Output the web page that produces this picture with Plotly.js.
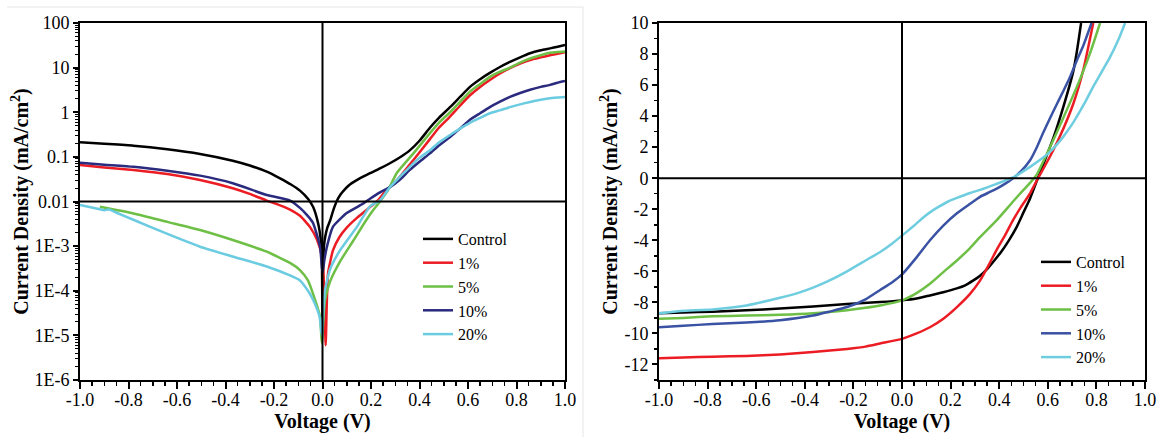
<!DOCTYPE html>
<html>
<head>
<meta charset="utf-8">
<script src="https://cdn.plot.ly/plotly-3.0.1.min.js"></script>
<style>html,body{margin:0;padding:0;background:#fff;}#plot{width:1159px;height:437px;}</style>
</head>
<body>
<div id="plot"></div>
<script>
// ---------- Left panel: dark J-V, |J| on log scale ----------
const seriesNames = ['Control', '1%', '5%', '10%', '20%'];

const darkCtrlV = [-1, -0.9, -0.78, -0.64, -0.505, -0.37, -0.3, -0.23, -0.175, -0.13, -0.093, -0.06, -0.039, -0.023, -0.012, -0.005, -0.002, 0, 0.002, 0.006, 0.012, 0.02, 0.031, 0.045, 0.06, 0.075, 0.093, 0.113, 0.15, 0.196, 0.237, 0.278, 0.32, 0.36, 0.4, 0.443, 0.48, 0.526, 0.567, 0.608, 0.65, 0.69, 0.73, 0.773, 0.815, 0.856, 0.9, 0.938, 0.97, 1.0];
const darkCtrlJ = [0.212, 0.196, 0.178, 0.148, 0.116, 0.082, 0.064, 0.0466, 0.033, 0.024, 0.0175, 0.0115, 0.0076, 0.0042, 0.0022, 0.001, 0.0003, 0.00002, 0.0003, 0.001, 0.0017, 0.0026, 0.0037, 0.0065, 0.0105, 0.0145, 0.019, 0.024, 0.032, 0.043, 0.055, 0.072, 0.098, 0.14, 0.23, 0.45, 0.75, 1.3, 2.2, 3.7, 5.5, 7.6, 10.2, 13.4, 17, 21, 24.5, 27, 29.5, 32];

const dark1V = [-1, -0.9, -0.78, -0.64, -0.505, -0.37, -0.3, -0.23, -0.175, -0.134, -0.093, -0.052, -0.023, -0.002, 0.006, 0.013, 0.018, 0.023, 0.043, 0.07, 0.1, 0.142, 0.196, 0.224, 0.26, 0.307, 0.375, 0.443, 0.48, 0.526, 0.567, 0.608, 0.65, 0.69, 0.73, 0.773, 0.815, 0.856, 0.9, 0.938, 0.97, 1.0];
const dark1J = [0.066, 0.058, 0.0508, 0.0413, 0.0303, 0.0198, 0.0148, 0.0105, 0.0082, 0.0066, 0.0048, 0.0027, 0.0014, 0.00057, 0.00015, 0.000006, 0.00006, 0.00025, 0.0008, 0.0016, 0.0026, 0.0043, 0.0075, 0.01, 0.017, 0.03, 0.085, 0.25, 0.45, 0.8, 1.4, 2.4, 3.7, 5.3, 7.3, 9.7, 12.3, 14.8, 17, 19, 20.5, 22];

const dark5V = [-0.918, -0.78, -0.64, -0.505, -0.37, -0.23, -0.134, -0.093, -0.06, -0.039, -0.01, -0.003, 0.01, 0.031, 0.072, 0.126, 0.18, 0.21, 0.237, 0.27, 0.307, 0.375, 0.443, 0.48, 0.526, 0.567, 0.608, 0.65, 0.69, 0.73, 0.773, 0.815, 0.856, 0.9, 0.938, 0.97, 1.0];
const dark5J = [0.0076, 0.0054, 0.0035, 0.0023, 0.00137, 0.00075, 0.00042, 0.00029, 0.00017, 0.000085, 0.000026, 0.0000068, 0.00006, 0.00016, 0.00045, 0.0013, 0.0038, 0.0065, 0.01, 0.018, 0.044, 0.12, 0.34, 0.58, 1.0, 1.7, 2.9, 4.3, 6.2, 8.0, 10, 13, 16, 19, 21.5, 22.5, 23];

const dark10V = [-1, -0.9, -0.78, -0.64, -0.505, -0.37, -0.23, -0.134, -0.093, -0.06, -0.039, -0.01, 0, 0.008, 0.018, 0.043, 0.1, 0.168, 0.196, 0.237, 0.278, 0.32, 0.36, 0.4, 0.443, 0.48, 0.526, 0.567, 0.608, 0.65, 0.69, 0.73, 0.773, 0.815, 0.856, 0.9, 0.938, 0.97, 1.0];
const dark10J = [0.074, 0.067, 0.06, 0.049, 0.038, 0.0257, 0.014, 0.0105, 0.0072, 0.0047, 0.0033, 0.00096, 0.00025, 0.0005, 0.00096, 0.0027, 0.0055, 0.009, 0.0115, 0.016, 0.021, 0.031, 0.051, 0.078, 0.12, 0.18, 0.28, 0.43, 0.68, 0.95, 1.3, 1.7, 2.2, 2.7, 3.2, 3.7, 4.1, 4.6, 5.0];

const dark20V = [-1, -0.918, -0.9, -0.88, -0.849, -0.78, -0.642, -0.505, -0.368, -0.23, -0.134, -0.093, -0.06, -0.039, -0.012, -0.003, 0.01, 0.031, 0.072, 0.142, 0.196, 0.237, 0.278, 0.32, 0.36, 0.4, 0.443, 0.48, 0.526, 0.567, 0.608, 0.65, 0.69, 0.73, 0.773, 0.815, 0.856, 0.9, 0.938, 0.97, 1.0];
const dark20J = [0.0084, 0.0067, 0.0064, 0.0066, 0.0056, 0.0039, 0.0019, 0.00097, 0.00058, 0.00035, 0.00022, 0.00017, 0.0001, 0.000063, 0.000026, 0.00001, 0.0001, 0.0003, 0.0008, 0.0027, 0.0078, 0.0105, 0.021, 0.036, 0.06, 0.095, 0.14, 0.21, 0.31, 0.43, 0.58, 0.75, 0.95, 1.1, 1.3, 1.5, 1.7, 1.9, 2.05, 2.15, 2.2];

// ---------- Right panel: illuminated J-V, linear ----------
const lightCtrlV = [-1, -0.9, -0.78, -0.64, -0.502, -0.366, -0.226, -0.09, 0, 0.06, 0.115, 0.17, 0.226, 0.26, 0.292, 0.32, 0.35, 0.38, 0.41, 0.44, 0.47, 0.5, 0.527, 0.56, 0.589, 0.623, 0.664, 0.705, 0.72, 0.737];
const lightCtrlJ = [-8.7, -8.65, -8.6, -8.5, -8.4, -8.26, -8.1, -7.98, -7.87, -7.75, -7.55, -7.35, -7.1, -6.9, -6.6, -6.3, -5.85, -5.3, -4.7, -4.0, -3.2, -2.2, -1.3, 0.05, 1.2, 2.6, 4.6, 6.9, 8.2, 10];

const light1V = [-1, -0.9, -0.78, -0.64, -0.502, -0.366, -0.226, -0.15, -0.09, 0, 0.06, 0.115, 0.17, 0.226, 0.28, 0.321, 0.36, 0.39, 0.425, 0.457, 0.49, 0.527, 0.56, 0.609, 0.65, 0.705, 0.746, 0.787];
const light1J = [-11.6, -11.55, -11.5, -11.45, -11.35, -11.2, -11.0, -10.85, -10.65, -10.35, -10.0, -9.6, -9.05, -8.3, -7.45, -6.6, -5.5, -4.6, -3.65, -2.7, -1.85, -0.97, 0, 1.4, 2.7, 4.8, 6.97, 10];

const light5V = [-1, -0.9, -0.78, -0.64, -0.502, -0.366, -0.226, -0.15, -0.09, 0, 0.06, 0.115, 0.17, 0.226, 0.28, 0.321, 0.39, 0.457, 0.5, 0.527, 0.555, 0.609, 0.664, 0.72, 0.774, 0.815];
const light5J = [-9.05, -9.0, -8.9, -8.85, -8.8, -8.7, -8.5, -8.35, -8.2, -7.87, -7.4, -6.8, -6.05, -5.3, -4.5, -3.8, -2.7, -1.5, -0.75, -0.3, 0.25, 2.0, 3.9, 5.9, 8.06, 10];

const light10V = [-1, -0.9, -0.78, -0.64, -0.502, -0.366, -0.3, -0.226, -0.15, -0.09, -0.04, 0, 0.06, 0.115, 0.17, 0.226, 0.28, 0.321, 0.36, 0.39, 0.425, 0.457, 0.49, 0.527, 0.555, 0.58, 0.61, 0.638, 0.665, 0.691, 0.72, 0.745, 0.78];
const light10J = [-9.6, -9.5, -9.4, -9.3, -9.15, -8.85, -8.6, -8.3, -7.8, -7.2, -6.7, -6.2, -5.1, -4.0, -3.05, -2.26, -1.65, -1.2, -0.9, -0.67, -0.35, 0, 0.45, 1.16, 2.0, 2.9, 3.9, 4.8, 5.65, 6.5, 7.6, 8.5, 10];

const light20V = [-1, -0.91, -0.78, -0.64, -0.502, -0.43, -0.366, -0.3, -0.226, -0.15, -0.09, -0.04, 0, 0.05, 0.09, 0.115, 0.15, 0.19, 0.226, 0.28, 0.321, 0.39, 0.457, 0.527, 0.57, 0.609, 0.66, 0.705, 0.75, 0.787, 0.82, 0.856, 0.89, 0.918];
const light20J = [-8.7, -8.55, -8.45, -8.2, -7.7, -7.4, -7.05, -6.6, -6.0, -5.3, -4.75, -4.2, -3.7, -3.05, -2.5, -2.2, -1.85, -1.5, -1.27, -0.95, -0.75, -0.36, 0.05, 0.73, 1.2, 1.7, 2.6, 3.6, 4.8, 5.9, 6.8, 7.8, 8.9, 10];

// ---------- Tick labels ----------
const xTickVals = [-1, -0.8, -0.6, -0.4, -0.2, 0, 0.2, 0.4, 0.6, 0.8, 1];
const xTickText = ['-1.0', '-0.8', '-0.6', '-0.4', '-0.2', '0.0', '0.2', '0.4', '0.6', '0.8', '1.0'];
const yLogTickVals = [1e-6, 1e-5, 1e-4, 1e-3, 0.01, 0.1, 1, 10, 100];
const yLogTickText = ['1E-6', '1E-5', '1E-4', '1E-3', '0.01', '0.1', '1', '10', '100'];
const yLinTickVals = [-12, -10, -8, -6, -4, -2, 0, 2, 4, 6, 8, 10];
const yLinTickText = ['-12', '-10', '-8', '-6', '-4', '-2', '0', '2', '4', '6', '8', '10'];

// ---------- Styling ----------
const darkColors = ['#000000', '#ec1c24', '#6dbf45', '#2a2a7e', '#6bcbe0'];
const lightColors = ['#000000', '#ec1c24', '#6dbf45', '#3a52a3', '#6fcde0'];
const FONT = 'Liberation Serif';

const W = 1159, H = 437;
const DL = [80 / W, 565 / W];
const DR = [659 / W, 1145 / W];
const DY = [57 / H, 414 / H];

const darkSets = [[darkCtrlV, darkCtrlJ], [dark1V, dark1J], [dark5V, dark5J], [dark10V, dark10J], [dark20V, dark20J]];
const lightSets = [[lightCtrlV, lightCtrlJ], [light1V, light1J], [light5V, light5J], [light10V, light10J], [light20V, light20J]];

const traces = [];
darkSets.forEach((s, i) => traces.push({
  x: s[0], y: s[1], type: 'scatter', mode: 'lines', name: seriesNames[i],
  xaxis: 'x', yaxis: 'y', legend: 'legend',
  line: {color: darkColors[i], width: 2.5, shape: 'spline', smoothing: 0.5}
}));
lightSets.forEach((s, i) => traces.push({
  x: s[0], y: s[1], type: 'scatter', mode: 'lines', name: seriesNames[i],
  xaxis: 'x2', yaxis: 'y2', legend: 'legend2',
  line: {color: lightColors[i], width: 2.5, shape: 'spline', smoothing: 0.5}
}));

const minorLog = [];
for (let e = -6; e < 2; e++) for (let k = 2; k <= 9; k++) minorLog.push(k * Math.pow(10, e));

const tickFont = {family: FONT, size: 18, color: '#000'};
const titleFont = {family: FONT, size: 20, color: '#000'};

function xMain(domain, anchor) {
  return {
    domain: domain, anchor: anchor, range: [-1, 1], showgrid: false, zeroline: false,
    showline: true, linecolor: '#000', linewidth: 2, mirror: true,
    ticks: 'outside', ticklen: 7, tickwidth: 2, tickcolor: '#000',
    tickmode: 'array', tickvals: xTickVals, ticktext: xTickText, tickfont: tickFont,
    ticklabelstandoff: -5,
    minor: {ticks: 'outside', ticklen: 4, tickwidth: 1.5, tickcolor: '#000', dtick: 0.05, tick0: -1},
    title: {text: '<b>Voltage (V)</b>', font: titleFont, standoff: 1},
    fixedrange: true
  };
}
function xOver(over, anchor) {
  return {
    overlaying: over, anchor: anchor, side: 'bottom', range: [-1, 1], showgrid: false, zeroline: false,
    showline: false, ticks: 'inside', ticklen: 7, tickwidth: 2, tickcolor: '#000',
    tickmode: 'array', tickvals: xTickVals, showticklabels: false, fixedrange: true
  };
}

const layout = {
  width: W, height: H, autosize: false,
  margin: {l: 0, r: 0, t: 0, b: 0},
  paper_bgcolor: '#fff', plot_bgcolor: '#fff',
  font: {family: FONT, color: '#000'},
  showlegend: true,
  xaxis: xMain(DL, 'y'),
  xaxis2: xMain(DR, 'y2'),
  xaxis3: xOver('x', 'y'),
  xaxis4: xOver('x2', 'y2'),
  yaxis: {
    domain: DY, anchor: 'x', type: 'log', range: [-6, 2], showgrid: false, zeroline: false,
    showline: true, linecolor: '#000', linewidth: 2, mirror: true,
    ticks: 'outside', ticklen: 5, tickwidth: 2, tickcolor: '#000',
    tickmode: 'array', tickvals: yLogTickVals, ticktext: yLogTickText, tickfont: tickFont,
    minor: {ticks: 'outside', ticklen: 3, tickwidth: 1, tickcolor: '#000', tickmode: 'array', tickvals: minorLog},
    title: {text: '<b>Current Density (mA/cm<sup>2</sup>)</b>', font: titleFont, standoff: 0},
    fixedrange: true
  },
  yaxis3: {
    overlaying: 'y', anchor: 'x', side: 'left', type: 'log', range: [-6, 2], showgrid: false, zeroline: false,
    showline: false, ticks: 'inside', ticklen: 8, tickwidth: 2, tickcolor: '#000',
    tickmode: 'array', tickvals: yLogTickVals, showticklabels: false, fixedrange: true
  },
  yaxis2: {
    domain: DY, anchor: 'x2', range: [-13, 10], showgrid: false, zeroline: false,
    showline: true, linecolor: '#000', linewidth: 2, mirror: true,
    ticks: 'outside', ticklen: 5, tickwidth: 2, tickcolor: '#000',
    tickmode: 'array', tickvals: yLinTickVals, ticktext: yLinTickText, tickfont: tickFont,
    minor: {ticks: 'outside', ticklen: 3, tickwidth: 1.5, tickcolor: '#000', dtick: 1, tick0: -13},
    title: {text: '<b>Current Density (mA/cm<sup>2</sup>)</b>', font: titleFont, standoff: 1},
    fixedrange: true
  },
  yaxis4: {
    overlaying: 'y2', anchor: 'x2', side: 'left', range: [-13, 10], showgrid: false, zeroline: false,
    showline: false, ticks: 'inside', ticklen: 8, tickwidth: 2, tickcolor: '#000',
    tickmode: 'array', tickvals: yLinTickVals, showticklabels: false, fixedrange: true
  },
  legend: {
    x: 418 / W, y: (H - 222) / H, xanchor: 'left', yanchor: 'top',
    font: {family: FONT, size: 16, color: '#000'}, bgcolor: 'rgba(0,0,0,0)', borderwidth: 0,
    tracegroupgap: 0
  },
  legend2: {
    x: 1036 / W, y: (H - 245) / H, xanchor: 'left', yanchor: 'top',
    font: {family: FONT, size: 16, color: '#000'}, bgcolor: 'rgba(0,0,0,0)', borderwidth: 0,
    tracegroupgap: 0
  },
  shapes: [
    {type: 'line', xref: 'x domain', yref: 'y domain', x0: 0, x1: 1, y0: 0.5, y1: 0.5, line: {color: '#000', width: 2}, layer: 'above'},
    {type: 'line', xref: 'x', yref: 'y domain', x0: 0, x1: 0, y0: 0, y1: 1, line: {color: '#000', width: 2}, layer: 'above'},
    {type: 'line', xref: 'x2 domain', yref: 'y2', x0: 0, x1: 1, y0: 0, y1: 0, line: {color: '#000', width: 2}, layer: 'above'},
    {type: 'line', xref: 'x2', yref: 'y2 domain', x0: 0, x1: 0, y0: 0, y1: 1, line: {color: '#000', width: 2}, layer: 'above'},
    {type: 'line', xref: 'paper', yref: 'paper', x0: 7 / W, x1: 583 / W, y0: (H - 7) / H, y1: (H - 7) / H, line: {color: '#e6e6e6', width: 1}},
    {type: 'line', xref: 'paper', yref: 'paper', x0: 583 / W, x1: 583 / W, y0: 0, y1: (H - 7) / H, line: {color: '#e6e6e6', width: 1}}
  ]
};

Plotly.newPlot('plot', traces, layout, {staticPlot: true, displayModeBar: false});
</script>
</body>
</html>
